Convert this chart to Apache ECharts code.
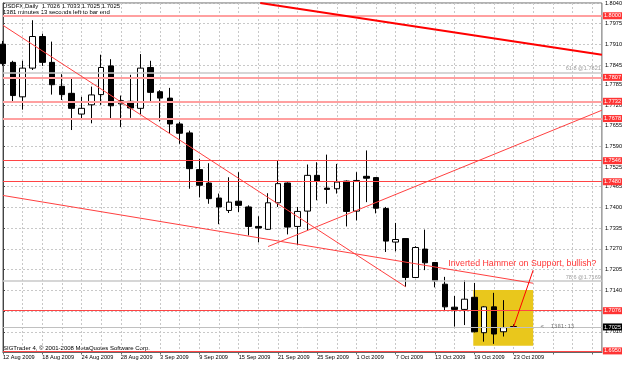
<!DOCTYPE html>
<html><head><meta charset="utf-8">
<script src="https://cdn.jsdelivr.net/npm/echarts@6/dist/echarts.min.js"></script>
<style>html,body{margin:0;padding:0;background:#fff}#c{width:625px;height:365px}</style>
</head><body><div id="c"></div>
<script>
// ---- data ----
const dates = ['12 Aug 2009','13 Aug 2009','14 Aug 2009','17 Aug 2009','18 Aug 2009','19 Aug 2009','20 Aug 2009','21 Aug 2009','24 Aug 2009','25 Aug 2009','26 Aug 2009','27 Aug 2009','28 Aug 2009','31 Aug 2009',
 '1 Sep 2009','2 Sep 2009','3 Sep 2009','4 Sep 2009','7 Sep 2009','8 Sep 2009','9 Sep 2009','10 Sep 2009','11 Sep 2009','14 Sep 2009','15 Sep 2009','16 Sep 2009','17 Sep 2009','18 Sep 2009','21 Sep 2009','22 Sep 2009','23 Sep 2009','24 Sep 2009','25 Sep 2009','28 Sep 2009','29 Sep 2009','30 Sep 2009',
 '1 Oct 2009','2 Oct 2009','5 Oct 2009','6 Oct 2009','7 Oct 2009','8 Oct 2009','9 Oct 2009','12 Oct 2009','13 Oct 2009','14 Oct 2009','15 Oct 2009','16 Oct 2009','19 Oct 2009','20 Oct 2009','21 Oct 2009','22 Oct 2009','23 Oct 2009'];
const opens  = [1.7911,1.7854,1.7746,1.7836,1.7935,1.7854,1.7779,1.7757,1.7692,1.7721,1.7753,1.7843,1.7724,1.7732,
 1.7710,1.7838,1.7762,1.7742,1.7661,1.7633,1.7518,1.7476,1.7429,1.7390,1.7419,1.7401,1.7340,1.7331,1.7414,1.7476,1.7340,1.7388,1.7500,1.7460,1.7458,1.7482,
 1.7388,1.7497,1.7493,1.7396,1.7291,1.7302,1.7180,1.7269,1.7227,1.7159,1.7087,1.7080,1.7118,1.7007,1.7088,1.7010,1.7026];
const highs  = [1.7921,1.7859,1.7859,1.7986,1.7944,1.7919,1.7817,1.7807,1.7746,1.7778,1.7878,1.7864,1.7750,1.7815,
 1.7880,1.7859,1.7767,1.7774,1.7668,1.7640,1.7552,1.7538,1.7443,1.7494,1.7510,1.7406,1.7372,1.7444,1.7547,1.7478,1.7401,1.7534,1.7541,1.7565,1.7536,1.7484,
 1.7510,1.7578,1.7494,1.7401,1.7351,1.7303,1.7278,1.7330,1.7228,1.7182,1.7122,1.7172,1.7163,1.7090,1.7132,1.7109,1.7033];
const lows   = [1.7843,1.7729,1.7706,1.7830,1.7843,1.7753,1.7736,1.7642,1.7674,1.7663,1.7721,1.7674,1.7651,1.7680,
 1.7692,1.7732,1.7669,1.7632,1.7599,1.7458,1.7431,1.7411,1.7347,1.7382,1.7385,1.7312,1.7290,1.7329,1.7401,1.7315,1.7281,1.7328,1.7422,1.7411,1.7443,1.7340,
 1.7359,1.7416,1.7381,1.7260,1.7262,1.7151,1.7178,1.7203,1.7149,1.7078,1.7026,1.7031,1.7008,1.6979,1.6972,1.6995,1.7025];
const closes = [1.7850,1.7750,1.7836,1.7935,1.7854,1.7784,1.7753,1.7710,1.7710,1.7752,1.7838,1.7718,1.7734,1.7711,
 1.7836,1.7760,1.7742,1.7661,1.7632,1.7521,1.7469,1.7427,1.7401,1.7416,1.7406,1.7340,1.7335,1.7414,1.7474,1.7338,1.7387,1.7500,1.7481,1.7456,1.7479,1.7387,
 1.7484,1.7491,1.7397,1.7294,1.7299,1.7180,1.7274,1.7226,1.7169,1.7088,1.7080,1.7112,1.7010,1.7088,1.7003,1.7023,1.7025];
const emptyBars = 9;
const yTicks  = [1.8040,1.7975,1.7910,1.7845,1.7785,1.7720,1.7655,1.7590,1.7525,1.7465,1.7400,1.7335,1.7270,1.7205,1.7140,1.7075,1.7010];
const yLabels = [1.8040,1.7975,1.7910,1.7845,1.7785,1.7720,1.7655,1.7590,1.7525,1.7465,1.7400,1.7335,1.7270,1.7205,1.7140,1.7010];
const levelsWide = [1.8000,1.7807,1.7732,1.7678];
const levelsThin = [1.7546,1.7480,1.7076,1.6950];
const fibLevels = [['61.8',1.7821],['78.6',1.7169]];
const lastPrice = 1.7025;
const trendMain  = [[26.2,1.8040],[61,1.7878]];
const trendDown  = [[0,1.7970],[41,1.7151]];
const trendLower = [[0,1.7437],[54,1.7162]];
const trendUp    = [[27,1.7277],[61,1.7704]];
const arrowLine  = [[52,1.7025],[54,1.7203]];
const zoneBox    = [[47.9,1.7141],[54.0,1.6966]];
const noteText   = 'Inverted Hammer on Support, bullish?';
const notePoint  = [45.3,1.7225];
const timerText  = '<  1381:13';
const timerPoint = [54.7,1.7025];
const headerLines = ['USDFX,Daily  1.7026 1.7033 1.7025 1.7025','1381 minutes 13 seconds left to bar end'];
const footerText = 'SIGTrader 4, \u00a9 2001-2008 MetaQuotes Software Corp.';

// ---- chart ----
const FONT = 'Liberation Sans';
const categories = dates.concat(new Array(emptyBars).fill(''));
const nMax = categories.length - 1;
const candles = dates.map((d,i)=>[opens[i],closes[i],lows[i],highs[i]]);
const dashGrid = {show:true,lineStyle:{color:'#c8c8c8',type:[2,2],width:1}};
const boxLabel = (bg)=>({show:true,position:'end',distance:1,formatter:p=>Number(p.value).toFixed(4),
  backgroundColor:bg,color:'#fff',fontSize:5.6,fontFamily:FONT,padding:[1,1,0,1],lineHeight:6});

const hLines = [];
levelsWide.forEach(v=>hLines.push({yAxis:v,lineStyle:{color:'#ffa0a0',width:2,type:'solid'},label:boxLabel('#ff3333')}));
levelsThin.forEach(v=>hLines.push({yAxis:v,lineStyle:{color:'#ff4444',width:1,type:'solid'},label:boxLabel('#ff3333')}));
fibLevels.forEach(f=>hLines.push({yAxis:f[1],lineStyle:{color:'#c8c8c8',width:1.5,type:'solid'},
  label:{show:true,position:'insideEndTop',distance:1,formatter:f[0]+' @'+f[1].toFixed(4),color:'#a0a0a0',fontSize:5.6,fontFamily:FONT}}));
hLines.push({yAxis:lastPrice,lineStyle:{color:'#c0c0c0',width:1,type:'solid'},label:boxLabel('#000')});

function trend(data,color,width){
  return {type:'line',xAxisIndex:1,yAxisIndex:0,data:data,showSymbol:false,symbol:'none',silent:true,
    lineStyle:{color:color,width:width},z:5,animation:false};
}

const chart = echarts.init(document.getElementById('c'),null,{renderer:'canvas'});
chart.setOption({
  animation:false,
  backgroundColor:'#fff',
  grid:{left:1,right:23,top:2,bottom:12.5,show:true,borderColor:'#666',borderWidth:1},
  xAxis:[{
    type:'category',data:categories,boundaryGap:false,
    axisLine:{show:true,lineStyle:{color:'#666'}},
    axisTick:{show:true,interval:3,length:2,lineStyle:{color:'#666'}},
    axisLabel:{interval:3,align:'left',fontSize:5.6,fontFamily:FONT,color:'#000',margin:2},
    splitLine:Object.assign({interval:1},dashGrid)
  },{
    type:'value',min:0,max:nMax,show:false,splitLine:{show:false}
  }],
  yAxis:{
    type:'value',position:'right',min:1.6945,max:1.8040,scale:true,
    axisLine:{show:true,lineStyle:{color:'#444'}},
    axisTick:{show:true,length:2,customValues:yTicks,lineStyle:{color:'#444'}},
    axisLabel:{customValues:yLabels,formatter:v=>v.toFixed(4),fontSize:5.6,fontFamily:FONT,color:'#000',margin:3},
    splitLine:dashGrid
  },
  series:[
    {type:'line',xAxisIndex:1,yAxisIndex:0,data:[],silent:true,z:1,
     markArea:{silent:true,itemStyle:{color:'#e9c71c'},data:[[{coord:zoneBox[0]},{coord:zoneBox[1]}]]}},
    {type:'candlestick',xAxisIndex:0,yAxisIndex:0,data:candles,barWidth:6,z:3,silent:true,
     itemStyle:{color:'#fff',color0:'#000',borderColor:'#000',borderColor0:'#000',borderWidth:1}},
    Object.assign(trend(trendMain,'#ff0000',2),{
      markLine:{silent:true,symbol:'none',precision:4,animation:false,data:hLines}}),
    trend(trendDown,'#ff4040',1),
    trend(trendLower,'#ff4040',1),
    trend(trendUp,'#ff4040',1),
    trend(arrowLine,'#ff0000',1),
    {type:'scatter',xAxisIndex:1,yAxisIndex:0,silent:true,z:6,symbolSize:1,itemStyle:{color:'rgba(0,0,0,0)'},
     data:[{value:notePoint,label:{show:true,position:'right',distance:0,formatter:noteText,color:'#ff0000',fontSize:8.8,fontFamily:FONT}},
           {value:timerPoint,label:{show:true,position:'right',distance:0,formatter:timerText,color:'#555',fontSize:5.6,fontFamily:'DejaVu Sans Mono'}}]}
  ],
  graphic:[
    {type:'text',left:3,top:3,style:{text:headerLines[0],fontSize:6,fontFamily:FONT,fill:'#000'}},
    {type:'text',left:3,top:9.7,style:{text:headerLines[1],fontSize:6,fontFamily:FONT,fill:'#000'}},
    {type:'text',left:3,top:345.5,style:{text:footerText,fontSize:6,fontFamily:FONT,fill:'#000'}}
  ]
});
</script></body></html>
